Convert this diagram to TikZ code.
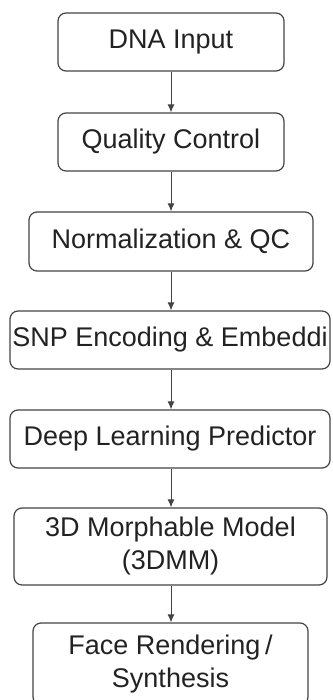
\documentclass[tikz,border=0pt]{standalone}
\usepackage{fontspec}
\setmainfont{Liberation Sans}
\usetikzlibrary{shapes,arrows.meta}
\definecolor{boxline}{HTML}{444444}
\definecolor{boxtext}{HTML}{222222}
\tikzset{stage/.style={draw=boxline, line width=1.2pt, rounded corners=8pt, align=center,
                       text=boxtext, inner sep=0pt, font=\fontsize{27}{33}\selectfont},
         flow/.style={draw=boxline, line width=1pt, -{Latex[length=8pt,width=7pt]}}}

\begin{document}
\begin{tikzpicture}[x=1pt,y=-1pt]
    \useasboundingbox (0,0) rectangle (332,700);
    \node[stage, minimum width=226pt, minimum height=58pt] (dna)   at (171,42)    {DNA Input};
    \node[stage, minimum width=226pt, minimum height=58pt] (qc)    at (171,142)   {Quality Control};
    \node[stage, minimum width=284pt, minimum height=59pt] (norm)  at (171,241.5) {Normalization \& QC};
    \node[stage, minimum width=320pt, minimum height=58pt] (snp)   at (170,340)   {SNP Encoding \& Embeddi};
    \node[stage, minimum width=320pt, minimum height=58pt] (deep)  at (170,439)   {Deep Learning Predictor};
    \node[stage, minimum width=313pt, minimum height=77pt] (mm)    at (170.5,546.5) {3D Morphable Model\\(3DMM)};
    \node[stage, minimum width=275pt, minimum height=82pt] (face)  at (170.5,664) {Face Rendering\,/\\Synthesis};
    \draw[flow] (dna.south)  -- (dna.south |- qc.north);
    \draw[flow] (qc.south)   -- (qc.south |- norm.north);
    \draw[flow] (norm.south) -- (norm.south |- snp.north);
    \draw[flow] (norm.south |- snp.south)  -- (norm.south |- deep.north);
    \draw[flow] (norm.south |- deep.south) -- (norm.south |- mm.north);
    \draw[flow] (norm.south |- mm.south)   -- (norm.south |- face.north);
\end{tikzpicture}
\end{document}
